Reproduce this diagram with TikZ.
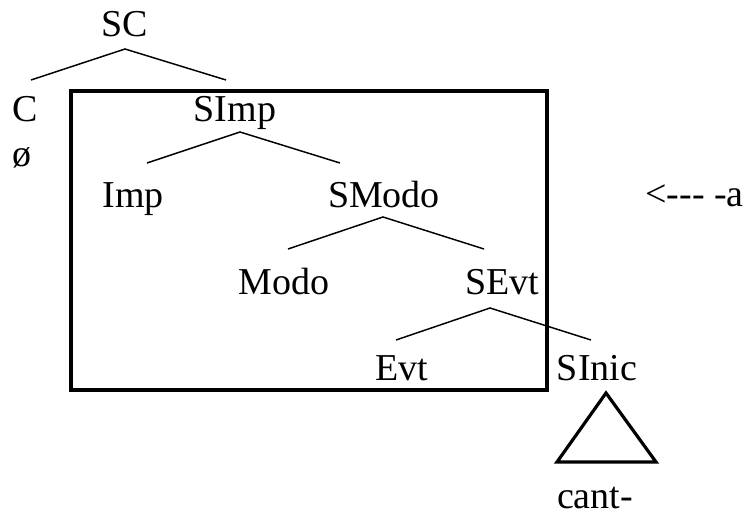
\documentclass[tikz,border=0pt]{standalone}
\usepackage{fontspec}
\setmainfont{Liberation Serif}
\begin{document}
\begin{tikzpicture}[x=0.75pt,y=-0.75pt,
  lab/.style={inner sep=0pt,anchor=base,font=\fontsize{28.5}{33}\selectfont},
  branch/.style={line width=1.1pt},
  frame/.style={line width=2.6pt},
  tri/.style={line width=2.4pt,line join=miter}]
\useasboundingbox (0,0) rectangle (748,516);
% nodes
\node[lab] (SC) at (125,37) {SC};
\node[lab] (C) at (25,122) {C};
\node[lab] (null) at (22,167) {ø};
\node[lab] (SImp) at (235,122) {SImp};
\node[lab] (Imp) at (133,208) {Imp};
\node[lab] (SModo) at (384,208) {SModo};
\node[lab] (Modo) at (284,294) {Modo};
\node[lab] (SEvt) at (502,294) {SEvt};
\node[lab] (Evt) at (402,380) {Evt};
\node[lab] (SInic) at (597,380) {SInic};
\node[lab] (cant) at (595,508) {cant-};
\node[lab,anchor=base east] (suf) at (744,207) {<-{}-{}- -a};
% branch coordinates
\coordinate (scA) at (125,49);
\coordinate (scL) at (31,80);
\coordinate (scR) at (226,80);
\coordinate (siA) at (240,132);
\coordinate (siL) at (147,163);
\coordinate (siR) at (340,163);
\coordinate (smA) at (383,217);
\coordinate (smL) at (288,249);
\coordinate (smR) at (484,249);
\coordinate (seA) at (490,308);
\coordinate (seL) at (396,340);
\coordinate (seR) at (591,340);
% branches
\draw[branch] (scL) -- (scA) -- (scR);
\draw[branch] (siL) -- (siA) -- (siR);
\draw[branch] (smL) -- (smA) -- (smR);
\draw[branch] (seL) -- (seA) -- (seR);
% box
\draw[frame] (71,91) rectangle (547,390);
% triangle
\coordinate (tA) at (606,393);
\coordinate (tL) at (557,462);
\coordinate (tR) at (656,462);
\draw[tri] (tA) -- (tL) -- (tR) -- cycle;
\end{tikzpicture}
\end{document}
